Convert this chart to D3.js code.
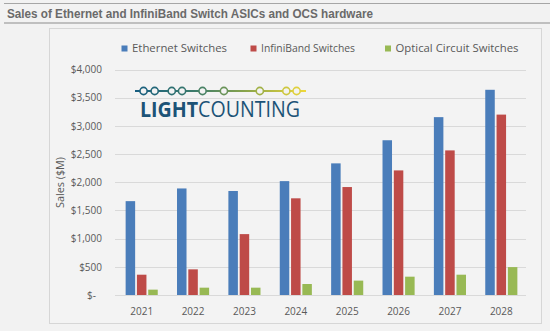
<!DOCTYPE html>
<html>
<head>
<meta charset="utf-8">
<script src="https://cdn.jsdelivr.net/npm/d3@7"></script>
<style>
  html, body { margin: 0; padding: 0; background: #f2f2f2; }
  svg { display: block; }
</style>
</head>
<body>
<svg id="chart" width="550" height="331"></svg>
<script>
// Sales of switch ASICs and OCS hardware, $M per year
const years = ["2021", "2022", "2023", "2024", "2025", "2026", "2027", "2028"];
const seriesNames = ["Ethernet Switches", "InfiniBand Switches", "Optical Circuit Switches"];
const ethernet   = [1665, 1890, 1845, 2020, 2335, 2745, 3155, 3640];
const infiniband = [ 360,  455, 1080, 1715, 1915, 2210, 2565, 3200];
const ocs        = [  95,  130,  130,  195,  255,  325,  360,  495];
const seriesColors = ["#4a7dba", "#be4b48", "#98b954"];
const yTicks = [0, 500, 1000, 1500, 2000, 2500, 3000, 3500, 4000];
const logoDots = [0.05, 0.115, 0.215, 0.275, 0.395, 0.52, 0.73, 0.885, 0.945];

const seriesValues = [ethernet, infiniband, ocs];
const rows = years.map((y, i) => ({ year: y, vals: seriesValues.map(s => s[i]) }));

const svg = d3.select("#chart");
const fontUI = "'Open Sans', 'Noto Sans', sans-serif";

// Header band
svg.append("line").attr("x1", 4).attr("x2", 550).attr("y1", 3.5).attr("y2", 3.5)
  .attr("stroke", "#a6a6a6").attr("stroke-width", 1.2);
svg.append("line").attr("x1", 4).attr("x2", 550).attr("y1", 23).attr("y2", 23)
  .attr("stroke", "#8c8c8c").attr("stroke-width", 1.2);
svg.append("text").attr("x", 7).attr("y", 17.5)
  .attr("font-family", "'Liberation Sans', Arial, sans-serif")
  .attr("font-weight", "bold").attr("font-size", 12.5).attr("fill", "#6a6a6a")
  .attr("textLength", 366).attr("lengthAdjust", "spacingAndGlyphs")
  .text("Sales of Ethernet and InfiniBand Switch ASICs and OCS hardware");

// Chart frame
svg.append("rect").attr("x", 49.5).attr("y", 28.5).attr("width", 492).attr("height", 295)
  .attr("fill", "#f3f3f3").attr("stroke", "#d6d6d6").attr("stroke-width", 1);

const x = d3.scaleBand().domain(years).range([115, 526]);
const y = d3.scaleLinear().domain([0, 4000]).range([295, 69.5]);
const barW = 9.5, barGap = 1.8;
const groupW = barW * 3 + barGap * 2;

// Gridlines
svg.append("g").selectAll("line").data(yTicks).join("line")
  .attr("x1", 115).attr("x2", 526)
  .attr("y1", d => Math.round(y(d)) + 0.5).attr("y2", d => Math.round(y(d)) + 0.5)
  .attr("stroke", "#d9d9d9").attr("stroke-width", 1);

// Y axis labels
const yAxis = d3.axisLeft(y).tickValues(yTicks).tickSize(0).tickPadding(0)
  .tickFormat(d => d === 0 ? "$-" : "$" + d3.format(",")(d));
const yg = svg.append("g").attr("transform", "translate(102,0)").call(yAxis);
yg.select(".domain").remove();
yg.selectAll("text").attr("font-family", fontUI).attr("font-size", 10).attr("fill", "#595959");
yg.selectAll(".tick").filter(d => d === 0).select("text").attr("dx", -6);

svg.append("text")
  .attr("transform", "translate(63.5,182.5) rotate(-90)")
  .attr("text-anchor", "middle")
  .attr("font-family", fontUI).attr("font-size", 10.5).attr("fill", "#595959")
  .attr("textLength", 51).attr("lengthAdjust", "spacingAndGlyphs")
  .text("Sales ($M)");

// Bars
const groups = svg.append("g").selectAll("g").data(rows).join("g")
  .attr("transform", d => `translate(${x(d.year) + x.bandwidth() / 2 - groupW / 2 + 1},0)`);
groups.selectAll("rect").data(d => d.vals).join("rect")
  .attr("x", (d, i) => i * (barW + barGap))
  .attr("y", d => y(d))
  .attr("width", barW)
  .attr("height", d => y(0) - y(d))
  .attr("fill", (d, i) => seriesColors[i]);

// X axis labels
const xAxis = d3.axisBottom(x).tickSize(0).tickPadding(0);
const xg = svg.append("g").attr("transform", "translate(1,307.5)").call(xAxis);
xg.select(".domain").remove();
xg.selectAll("text").attr("font-family", fontUI).attr("font-size", 10).attr("fill", "#595959");

// Legend
const legendX = [121.5, 250.5, 385];
const legendW = [95, 94, 123];
const lg = svg.append("g").selectAll("g").data(seriesNames).join("g")
  .attr("transform", (d, i) => `translate(${legendX[i]},48)`);
lg.append("rect").attr("x", 0).attr("y", -2.5).attr("width", 6).attr("height", 6)
  .attr("fill", (d, i) => seriesColors[i]);
lg.append("text").attr("x", 10.5).attr("y", 4)
  .attr("font-family", fontUI).attr("font-size", 11).attr("fill", "#595959")
  .attr("textLength", (d, i) => legendW[i]).attr("lengthAdjust", "spacingAndGlyphs")
  .text(d => d);

// LightCounting logo
const defs = svg.append("defs");
const grad = defs.append("linearGradient").attr("id", "logoGrad")
  .attr("gradientUnits", "userSpaceOnUse").attr("x1", 135).attr("x2", 306).attr("y1", 0).attr("y2", 0);
grad.append("stop").attr("offset", "0%").attr("stop-color", "#165d80");
grad.append("stop").attr("offset", "35%").attr("stop-color", "#3d7c6a");
grad.append("stop").attr("offset", "65%").attr("stop-color", "#8aa54a");
grad.append("stop").attr("offset", "100%").attr("stop-color", "#efd83a");

const logo = svg.append("g");
const lineX0 = 135, lineX1 = 306, lineY = 91;
logo.append("line").attr("x1", lineX0).attr("x2", lineX1).attr("y1", lineY).attr("y2", lineY)
  .attr("stroke", "url(#logoGrad)").attr("stroke-width", 2);
const dotColor = d3.scaleLinear().domain([0, 0.35, 0.65, 1])
  .range(["#165d80", "#3d7c6a", "#8aa54a", "#efd83a"]);
logo.selectAll("circle").data(logoDots).join("circle")
  .attr("cx", d => lineX0 + d * (lineX1 - lineX0))
  .attr("cy", lineY).attr("r", 3.6)
  .attr("fill", "#f3f3f3")
  .attr("stroke", d => dotColor(d)).attr("stroke-width", 1.6);
const lt = logo.append("text").attr("x", 140).attr("y", 116.5)
  .attr("font-family", "'Open Sans', Lato, sans-serif").attr("font-size", 21)
  .attr("fill", "#1c5377").attr("textLength", 160).attr("lengthAdjust", "spacingAndGlyphs");
lt.append("tspan").attr("font-weight", "bold").text("LIGHT");
lt.append("tspan").attr("font-weight", "normal").text("COUNTING");
</script>
</body>
</html>
